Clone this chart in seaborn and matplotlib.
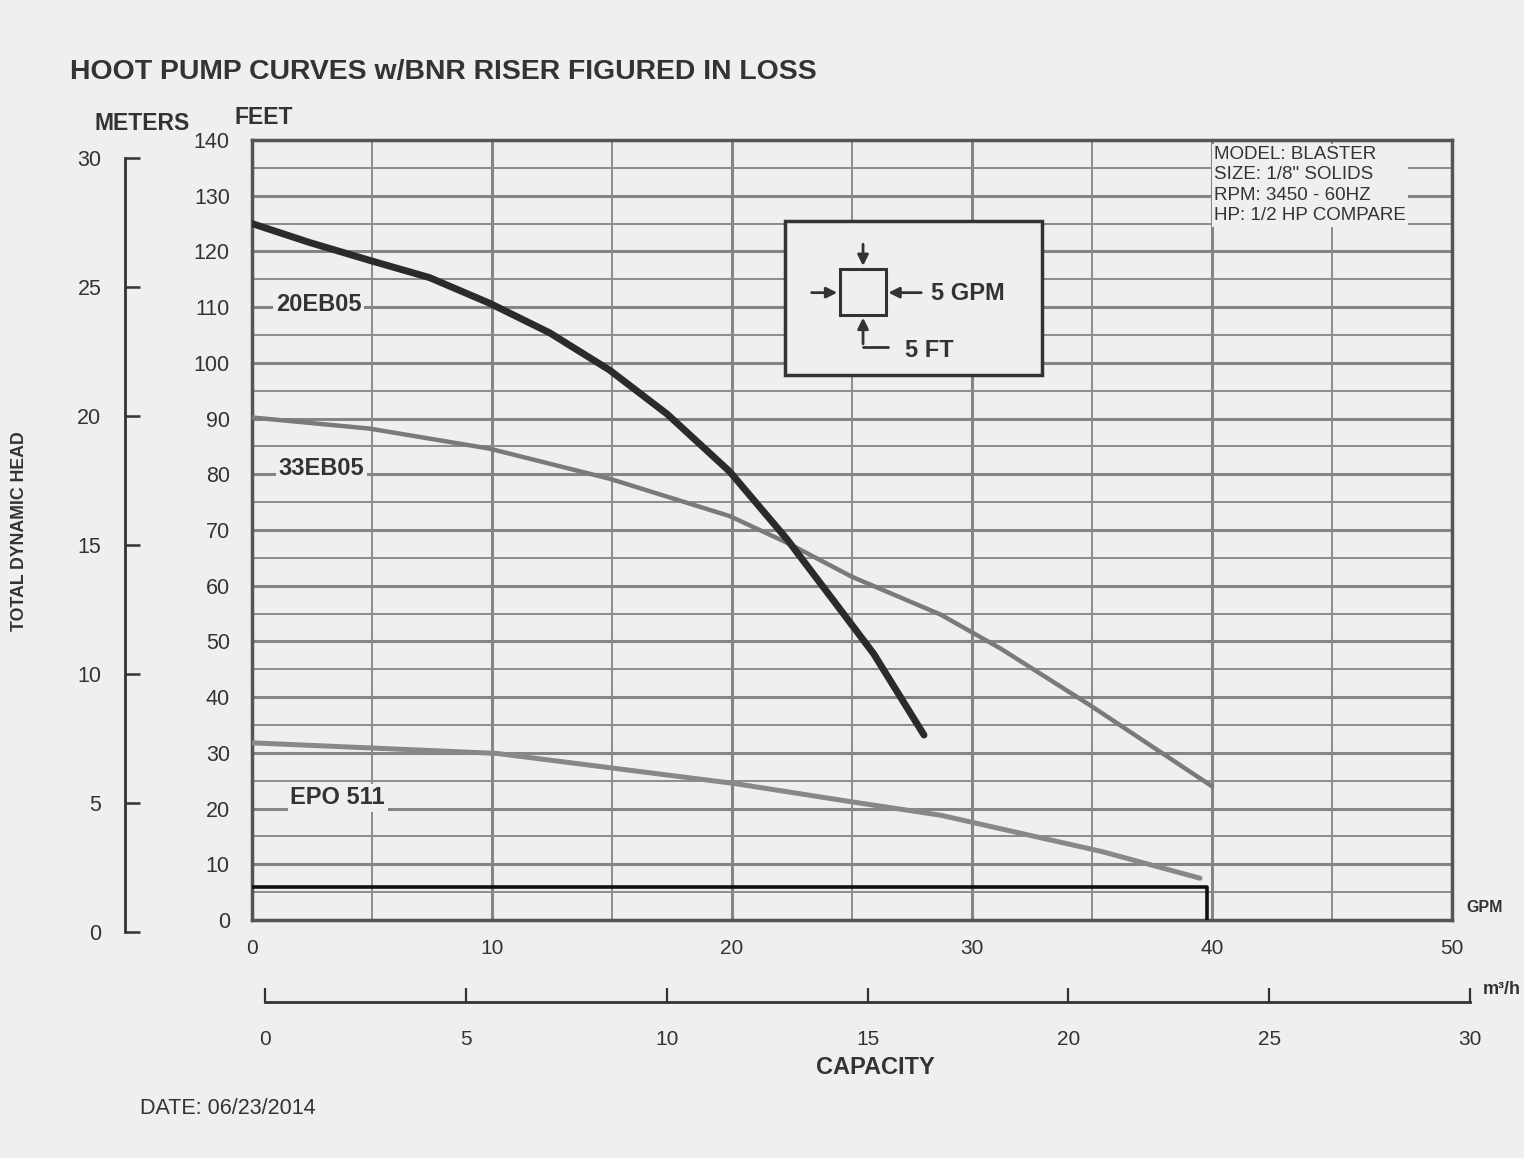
import pandas as pd
import matplotlib.pyplot as plt
import seaborn as sns
from matplotlib.patches import Rectangle

# curve readings off the scanned sheet (capacity in GPM, head in feet)
eb20_gpm = [0, 2.4, 4.9, 7.4, 9.9, 12.4, 14.9, 17.3, 19.9, 22.3, 24.2, 25.9, 28.0]
eb20_ft = [125, 121.6, 118.4, 115.3, 110.7, 105.4, 98.7, 90.8, 80.5, 68.3, 57.5, 47.8, 33.2]
eb33_gpm = [0, 4.9, 9.9, 14.9, 19.9, 22.3, 25, 28.7, 31.2, 34.9, 40]
eb33_ft = [90.2, 88.2, 84.6, 79.2, 72.5, 67.7, 61.6, 54.8, 48.7, 38.6, 24]
epo_gpm = [0, 10.2, 20.1, 25, 28.7, 35.4, 39.5]
epo_ft = [31.8, 29.9, 24.5, 21.2, 18.8, 12.3, 7.5]
# riser loss outline
loss_gpm = [0, 39.8, 39.8]
loss_ft = [6, 6, 0]

gpm_ticks = [0, 10, 20, 30, 40, 50]
feet_ticks = list(range(0, 141, 10))
meter_ticks = [0, 5, 10, 15, 20, 25, 30]
m3h_ticks = [0, 5, 10, 15, 20, 25, 30]
info_lines = ["MODEL: BLASTER", 'SIZE: 1/8" SOLIDS', "RPM: 3450 - 60HZ", "HP: 1/2 HP COMPARE"]

PAPER = "#efefef"
INK = "#333333"
W, H = 1524, 1158

sns.set_style("white")
plt.rcParams['font.family'] = ['Liberation Sans', 'DejaVu Sans']

fig = plt.figure(figsize=(W / 100, H / 100), dpi=100, facecolor=PAPER)


def fx(px):
    return px / W


def fy(py):
    return 1 - py / H


# main chart
ax = fig.add_axes([fx(252), fy(920), fx(1452) - fx(252), fy(140) - fy(920)])
ax.set_facecolor(PAPER)
ax.set_xlim(0, 50)
ax.set_ylim(0, 140)
ax.set_xticks(gpm_ticks)
ax.set_yticks(feet_ticks)
ax.set_xticks(range(5, 50, 10), minor=True)
ax.set_yticks(range(5, 140, 10), minor=True)
ax.grid(which='major', color='#858585', lw=2.2, zorder=0)
ax.grid(which='minor', color='#8c8c8c', lw=1.4, zorder=0)
ax.tick_params(which='both', length=0)
ax.tick_params(axis='x', labelsize=15, pad=14, colors=INK)
ax.tick_params(axis='y', labelsize=15.5, pad=16, colors=INK)
for s in ax.spines.values():
    s.set_color('#555555')
    s.set_linewidth(2.5)

sns.lineplot(x=loss_gpm, y=loss_ft, sort=False, estimator=None, color='#111111', lw=2.6, ax=ax, zorder=4)
sns.lineplot(x=epo_gpm, y=epo_ft, sort=False, estimator=None, color='#888888', lw=3.6, ax=ax, zorder=4)
sns.lineplot(x=eb33_gpm, y=eb33_ft, sort=False, estimator=None, color='#7a7a7a', lw=3.2, ax=ax, zorder=4)
sns.lineplot(x=eb20_gpm, y=eb20_ft, sort=False, estimator=None, color='#2b2b2b', lw=5, ax=ax, zorder=5)
ax.set_xlabel('')
ax.set_ylabel('')

lab = dict(fontsize=17, fontweight='bold', color=INK, va='center', ha='left', zorder=6,
           bbox=dict(facecolor=PAPER, edgecolor='none', pad=2))
ax.text(1.0, 110.4, "20EB05", **lab)
ax.text(1.1, 81.1, "33EB05", **lab)
ax.text(1.6, 21.9, "EPO 511", **lab)

# legend box for the grid scale
ax.add_patch(Rectangle((22.2, 97.8), 10.7, 27.6, facecolor=PAPER, edgecolor=INK, lw=2.5, zorder=3))
ax.add_patch(Rectangle((24.5, 108.6), 1.9, 8.3, facecolor=PAPER, edgecolor=INK, lw=2.2, zorder=4))
arr = dict(arrowstyle='-|>', color=INK, lw=2, mutation_scale=16)
ax.annotate('', xy=(25.46, 116.9), xytext=(25.46, 121.8), arrowprops=arr, zorder=5)
ax.annotate('', xy=(24.5, 112.6), xytext=(23.2, 112.6), arrowprops=arr, zorder=5)
ax.annotate('', xy=(26.4, 112.6), xytext=(28.0, 112.6), arrowprops=arr, zorder=5)
ax.annotate('', xy=(25.46, 108.6), xytext=(25.46, 102.9), arrowprops=arr, zorder=5)
ax.plot([25.46, 26.5], [102.9, 102.9], color=INK, lw=2, zorder=5)
ax.text(28.3, 112.4, "5 GPM", fontsize=17, fontweight='bold', color=INK, va='center', zorder=6)
ax.text(27.2, 102.2, "5 FT", fontsize=17, fontweight='bold', color=INK, va='center', zorder=6)

# model info, on a blank patch over the grid
ax.text(40.1, 139.0, "\n".join(info_lines), fontsize=13.5, color=INK, va='top', ha='left',
        linespacing=1.28, zorder=6, bbox=dict(facecolor=PAPER, edgecolor='none', pad=1.5))

# meters scale on the far left
ax_m = fig.add_axes([fx(125), fy(932), 0.0005, fy(158) - fy(932)])
ax_m.set_ylim(0, 30)
ax_m.set_yticks(meter_ticks)
ax_m.set_xticks([])
ax_m.patch.set_visible(False)
for k in ['top', 'right', 'bottom']:
    ax_m.spines[k].set_visible(False)
ax_m.spines['left'].set_color(INK)
ax_m.spines['left'].set_linewidth(2)
ax_m.tick_params(axis='y', left=True, direction='in', length=11, width=1.8, color=INK,
                 labelsize=15.5, pad=17, labelcolor=INK)

# m3/h scale under the chart
ax_c = fig.add_axes([fx(265), fy(1002), fx(1470) - fx(265), 0.0005])
ax_c.set_xlim(0, 30)
ax_c.set_xticks(m3h_ticks)
ax_c.set_yticks([])
ax_c.patch.set_visible(False)
for k in ['top', 'right', 'left']:
    ax_c.spines[k].set_visible(False)
ax_c.spines['bottom'].set_color(INK)
ax_c.spines['bottom'].set_linewidth(2)
ax_c.tick_params(axis='x', bottom=True, direction='in', length=10, width=1.6, color=INK,
                 labelsize=15, pad=20, labelcolor=INK)

# texts
fig.text(fx(70), fy(72), "HOOT PUMP CURVES w/BNR RISER FIGURED IN LOSS", fontsize=20.4,
         fontweight='bold', color=INK, va='center')
fig.text(fx(95), fy(123), "METERS", fontsize=16.5, fontweight='bold', color=INK, va='center')
fig.text(fx(235), fy(118), "FEET", fontsize=16.5, fontweight='bold', color=INK, va='center')
fig.text(fx(20), fy(531), "TOTAL DYNAMIC HEAD", fontsize=12.8, fontweight='bold', color=INK,
         rotation=90, ha='center', va='center')
fig.text(fx(1466), fy(908), "GPM", fontsize=11.5, fontweight='bold', color=INK, va='center')
fig.text(fx(1483), fy(990), "m\u00b3/h", fontsize=13, fontweight='bold', color=INK, va='center')
fig.text(fx(875), fy(1067), "CAPACITY", fontsize=17, fontweight='bold', color=INK,
         ha='center', va='center')
fig.text(fx(140), fy(1108), "DATE: 06/23/2014", fontsize=15.5, color=INK, va='center')

fig.savefig("out.png", dpi=100, facecolor=PAPER)
